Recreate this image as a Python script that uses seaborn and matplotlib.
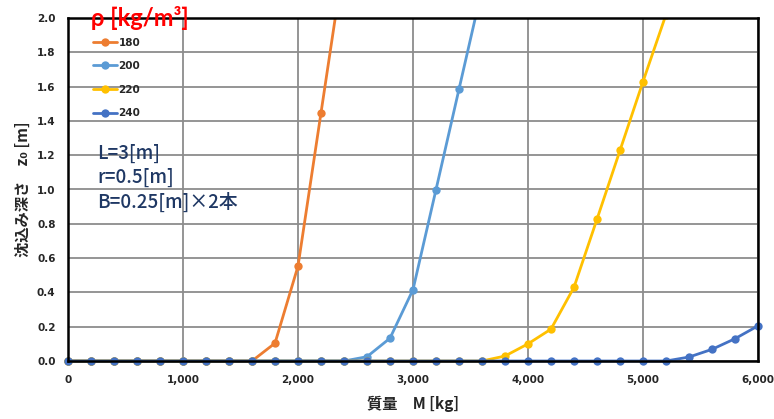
import matplotlib
matplotlib.use("Agg")
import matplotlib.pyplot as plt
import matplotlib.ticker as mticker
from matplotlib.patches import Rectangle
import numpy as np
import pandas as pd
import seaborn as sns

# ---- data ----
mass = [0, 200, 400, 600, 800, 1000, 1200, 1400, 1600, 1800, 2000, 2200, 2400,
        2600, 2800, 3000, 3200, 3400, 3600, 3800, 4000, 4200, 4400, 4600, 4800,
        5000, 5200, 5400, 5600, 5800, 6000]
rho_labels = ["180", "200", "220", "240"]
z_180 = [0, 0, 0, 0, 0, 0, 0, 0, 0.0, 0.104, 0.553, 1.447, 2.34]
z_200 = [0, 0, 0, 0, 0, 0, 0, 0, 0, 0, 0, 0, 0.0, 0.025, 0.133, 0.416, 0.999, 1.585, 2.17]
z_220 = [0, 0, 0, 0, 0, 0, 0, 0, 0, 0, 0, 0, 0, 0, 0, 0, 0, 0, 0.0, 0.029, 0.10,
         0.186, 0.43, 0.827, 1.228, 1.629, 2.02]
z_240 = [0, 0, 0, 0, 0, 0, 0, 0, 0, 0, 0, 0, 0, 0, 0, 0, 0, 0, 0, 0, 0, 0, 0, 0, 0,
         0, 0.0, 0.023, 0.068, 0.13, 0.205]
series = [z_180, z_200, z_220, z_240]
colors = ["#ED7D31", "#5B9BD5", "#FFC000", "#4472C4"]
legend_title = "ρ [kg/m³]"
info = ["L=3[m]", "r=0.5[m]", "B=0.25[m]×2本"]

rows = []
for lab, vals in zip(rho_labels, series):
    for m, z in zip(mass, vals):
        rows.append({"M": m, "z": z, "rho": lab})
df = pd.DataFrame(rows)

sns.set_theme(style="white")
plt.rcParams["font.family"] = ["DejaVu Sans", "Noto Sans CJK JP"]

fig = plt.figure(figsize=(7.74, 4.19), dpi=100)
ax = fig.add_axes([68 / 774, 1 - 361 / 419, (758 - 68) / 774, (361 - 18) / 419])

sns.lineplot(data=df, x="M", y="z", hue="rho", hue_order=rho_labels,
             palette=colors, marker="o", markersize=6, markeredgewidth=0,
             linewidth=2, ax=ax)

# clip lines at the top of the plot area only (markers on the axes stay whole)
clip = Rectangle((-0.02, -0.05), 1.04, 1.05, transform=ax.transAxes,
                 facecolor="none", edgecolor="none")
ax.add_patch(clip)
for ln in ax.get_lines():
    ln.set_clip_path(clip)

ax.set_xlim(0, 6000)
ax.set_ylim(0, 2.0)
ax.xaxis.set_major_locator(mticker.MultipleLocator(1000))
ax.yaxis.set_major_locator(mticker.MultipleLocator(0.2))
ax.xaxis.set_major_formatter(mticker.FuncFormatter(lambda v, p: f"{int(v):,}"))
ax.yaxis.set_major_formatter(mticker.FormatStrFormatter("%.1f"))
ax.grid(True, color="#8c8c8c", linewidth=1.3)
ax.set_axisbelow(True)
for s in ax.spines.values():
    s.set_color("black")
    s.set_linewidth(1.8)
ax.tick_params(axis="x", length=0, labelsize=7.5, pad=10)
ax.tick_params(axis="y", length=0, labelsize=7.5, pad=9)
for t in ax.get_xticklabels() + ax.get_yticklabels():
    t.set_fontweight("bold")

ax.set_xlabel("質量　M [kg]", fontsize=11, fontweight="bold",
              family=["Noto Sans CJK JP", "DejaVu Sans"], labelpad=8)
ax.set_ylabel("沈込み深さ　z₀ [m]", fontsize=11, fontweight="bold",
              family=["Noto Sans CJK JP", "DejaVu Sans"], labelpad=4)

leg = ax.legend(loc="upper left", bbox_to_anchor=(0.03, 0.955),
                frameon=False, fontsize=7.5, handlelength=2.3, handletextpad=0.15,
                labelspacing=1.3, borderaxespad=0)
for t in leg.get_texts():
    t.set_fontweight("bold")

ax.text(0.034, 1.0, legend_title, transform=ax.transAxes, fontsize=17,
        fontweight="bold", color="red", family=["Lato", "DejaVu Sans"],
        va="center", ha="left", clip_on=False)

for i, s in enumerate(info):
    ax.text(0.042, 0.605 - i * 0.07, s, transform=ax.transAxes, fontsize=13.5,
            color="#1F3864", family=["Noto Sans CJK JP", "DejaVu Sans"],
            fontweight="medium", va="center", ha="left")

fig.savefig("out.png", dpi=100)
